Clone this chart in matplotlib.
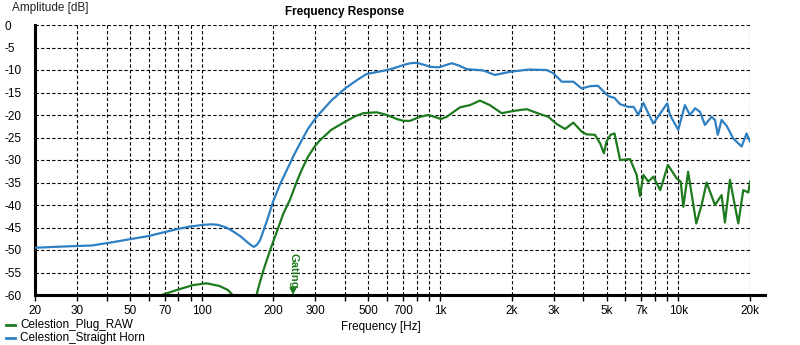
import matplotlib
matplotlib.use("Agg")
import matplotlib.pyplot as plt
from matplotlib.lines import Line2D

plt.rcParams['font.family'] = ['Liberation Sans', 'DejaVu Sans']

series_names = ["Celestion_Plug_RAW", "Celestion_Straight Horn"]
series_colors = ["#1e7a1e", "#2f80c2"]

horn_freq = [20, 27, 34.6, 42, 50, 60, 69, 80, 89, 102, 110, 117, 127, 136, 146, 155, 162, 166, 171, 176,
             188, 200, 213, 228, 243, 259, 280, 304, 350, 400, 450, 492, 550, 600, 650, 702, 750, 800,
             865, 908, 990, 1060, 1120, 1200, 1295, 1520, 1700, 1970, 2350, 2800, 2990, 3245,
             3630, 3935, 4265, 4600, 5090, 5400, 5700, 6175, 6500, 6800, 7136, 7860, 8990, 9230,
             10000, 10660, 11200, 11770, 12340, 12940, 13800, 14260, 14650, 15200, 16000, 17000,
             18440, 19350, 20000]
horn_db = [-49.5, -49.2, -49.0, -48.3, -47.6, -46.9, -46.1, -45.3, -44.8, -44.4, -44.3, -44.4, -45.0, -45.9,
           -47.0, -48.2, -49.0, -49.3, -48.8, -47.8, -43.5, -39.1, -35.5, -32.2, -29.1, -26.3, -23.0, -20.4,
           -16.8, -14.1, -12.2, -10.9, -10.4, -10.0, -9.5, -8.9, -8.5, -8.4, -8.9, -9.3, -9.4, -8.9, -8.5,
           -9.0, -9.8, -10.1, -11.1, -10.4, -9.9, -10.0, -10.7, -12.6, -12.6, -14.1, -13.6, -13.5,
           -15.8, -16.2, -17.6, -18.2, -18.2, -20.0, -17.3, -21.9, -17.4, -20.0, -23.3, -17.8, -20.0,
           -18.5, -19.3, -22.2, -20.4, -21.1, -24.4, -21.1, -22.5, -25.2, -27.0, -24.1, -25.9]

plug_freq = [68, 78.6, 92, 105, 119, 129, 135, 140, 150, 160, 166, 170, 176, 182, 194, 207, 220,
             235, 250, 263, 280, 300, 314, 350, 400, 440, 477, 543, 600, 660, 702, 749, 825, 894, 960, 1010,
             1068, 1214, 1337, 1472, 1620, 1816, 2030, 2312, 2630, 2850, 3090, 3350, 3630, 3935,
             4125, 4470, 4700, 4876, 5000, 5200, 5400, 5514, 5700, 6276, 6690, 6910, 7136, 7490,
             7860, 8400, 9050, 9850, 10240, 10500, 11000, 11900, 12530, 13150, 14260, 15200, 15700,
             16480, 17860, 18740, 19680, 20000]
plug_db = [-60.0, -58.9, -57.8, -57.4, -58.0, -58.9, -60.0, -61.5, -64.0, -64.0, -61.5, -60.0, -57.0,
           -54.4, -50.0, -45.9, -42.0, -38.8, -35.0, -32.2, -29.2, -26.8, -25.6, -23.3, -21.5, -20.3, -19.6,
           -19.4, -20.0, -20.9, -21.3, -21.3, -20.4, -20.0, -20.5, -20.9, -20.4, -18.3, -17.8, -16.8, -17.8,
           -19.6, -19.1, -18.7, -19.8, -20.4, -22.0, -23.1, -21.7, -23.7, -24.3, -24.4, -26.3, -28.5,
           -25.9, -24.4, -24.1, -26.3, -30.0, -29.8, -33.3, -38.0, -33.3, -34.8, -33.7, -36.7, -31.1,
           -34.1, -34.8, -40.4, -32.6, -44.1, -40.0, -35.0, -40.0, -37.8, -43.9, -34.4, -44.1, -36.7,
           -37.2, -34.8]

x_ticks = [20, 30, 40, 50, 60, 70, 80, 90, 100, 200, 300, 400, 500, 600, 700, 800, 900, 1000,
           2000, 3000, 4000, 5000, 6000, 7000, 8000, 9000, 10000, 20000]
x_labels = ["20", "30", "", "50", "", "70", "", "", "100", "200", "300", "", "500", "", "700", "",
            "", "1k", "2k", "3k", "", "5k", "", "7k", "", "", "10k", "20k"]
y_ticks = [-60, -55, -50, -45, -40, -35, -30, -25, -20, -15, -10, -5, 0]
gating_freq = 242

W, H = 800, 345
fig = plt.figure(figsize=(8, 3.45), dpi=100)
ax = fig.add_axes([35 / W, 1 - 295 / H, 715 / W, 270 / H])
ax.set_xscale('log')
ax.set_xlim(20, 20000)
ax.set_ylim(-60, 0)

ax.plot(plug_freq, plug_db, color=series_colors[0], lw=1.6, zorder=3)
ax.plot(horn_freq, horn_db, color=series_colors[1], lw=1.6, zorder=3)

ax.set_xticks(x_ticks)
ax.set_xticklabels(x_labels)
ax.minorticks_off()
ax.set_yticks(y_ticks)
ax.set_yticklabels([str(v) for v in y_ticks], ha='left')
ax.tick_params(axis='y', length=0, pad=22, labelsize=8.5)
ax.tick_params(axis='x', length=4, width=1, direction='out', pad=3, labelsize=8.5)
ax.grid(True, which='major', color='black', linestyle=(0, (3, 2)), linewidth=0.8)

for s in ['top', 'right', 'bottom']:
    ax.spines[s].set_visible(False)
ax.spines['left'].set_linewidth(2.2)
ax.add_line(Line2D([0, 730 / 715], [0, 0], transform=ax.transAxes, color='black', lw=2.2,
                   clip_on=False, zorder=5))

# Gating marker
ax.text(gating_freq, -50.6, "Gating", rotation=-90, color=series_colors[0], fontsize=8,
        fontweight='bold', ha='center', va='top', zorder=4)
ax.annotate("", xy=(gating_freq, -60), xytext=(gating_freq, -58.2),
            arrowprops=dict(arrowstyle='-|>', color=series_colors[0], lw=0.5,
                            mutation_scale=12, shrinkA=0, shrinkB=0), zorder=6)

fig.text(345 / W, 1 - 12 / H, "Frequency Response", ha='center', va='center',
         fontsize=8.5, fontweight='bold')
fig.text(12 / W, 1 - 8 / H, "Amplitude [dB]", ha='left', va='center', fontsize=8.5, color='#222222')
fig.text(381 / W, 1 - 327 / H, "Frequency [Hz]", ha='center', va='center', fontsize=8.5)

# legend
for i, (name, col) in enumerate(zip(series_names, series_colors)):
    yy = 1 - (325 + i * 12.7) / H
    fig.add_artist(Line2D([6 / W, 15 / W], [yy, yy], color=col, lw=2))
    fig.text(20 / W, yy, name, ha='left', va='center', fontsize=8.5)

fig.savefig("out.png", dpi=100)
